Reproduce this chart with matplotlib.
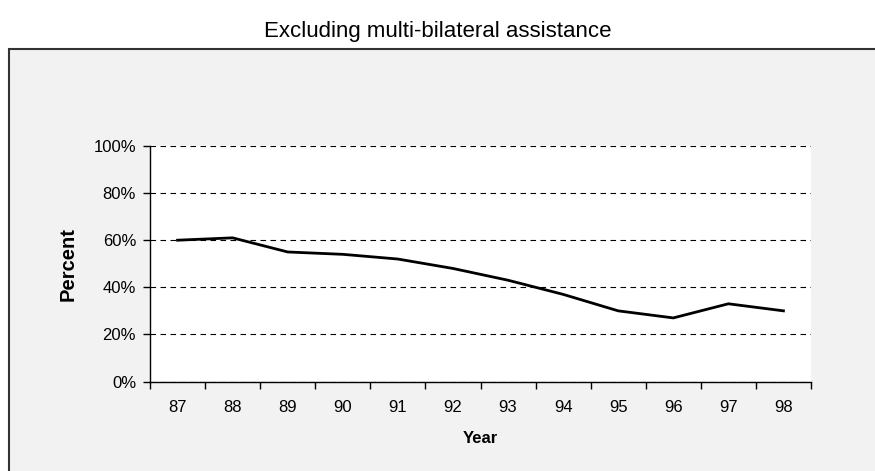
import numpy as np
import matplotlib.pyplot as plt
from matplotlib.patches import Rectangle
from matplotlib.ticker import FixedLocator, PercentFormatter

plt.rcParams['font.family'] = ['Liberation Sans', 'DejaVu Sans']

# Data
years = ['87', '88', '89', '90', '91', '92', '93', '94', '95', '96', '97', '98']
share = [0.60, 0.61, 0.55, 0.54, 0.52, 0.48, 0.43, 0.37, 0.30, 0.27, 0.33, 0.30]

fig = plt.figure(figsize=(8.75, 4.71), dpi=100)
fig.patch.set_facecolor('white')

# gray chart-area box (runs off the right/bottom edge)
fig.patches.append(Rectangle((9 / 875, -0.05), 1.0, 422 / 471 + 0.05,
                             transform=fig.transFigure, facecolor='#f2f2f2',
                             edgecolor='#333333', linewidth=1.5, zorder=-10))

fig.text(438 / 875, 1 - 32 / 471, 'Excluding multi-bilateral assistance',
         ha='center', va='center', fontsize=16)

ax = fig.add_axes([150 / 875, 1 - 381.5 / 471, 661 / 875, 235.5 / 471])
ax.set_facecolor('white')

x = np.arange(len(years))
ax.plot(x, share, color='black', linewidth=2, solid_joinstyle='miter', zorder=3)

ax.set_xlim(-0.5, len(years) - 0.5)
ax.set_ylim(0, 1)

# category boundaries as ticks, labels centred on categories
ax.xaxis.set_major_locator(FixedLocator(np.arange(-0.5, len(years), 1)))
ax.xaxis.set_minor_locator(FixedLocator(x))
ax.set_xticklabels([])
ax.set_xticklabels(years, minor=True)
ax.tick_params(axis='x', which='major', direction='out', length=5, width=1)
ax.tick_params(axis='x', which='minor', length=0, pad=13, labelsize=12)

ax.set_yticks(np.arange(0, 1.01, 0.2))
ax.yaxis.set_major_formatter(PercentFormatter(1.0, decimals=0))
ax.tick_params(axis='y', direction='out', length=5, width=1, labelsize=12, pad=5)

ax.grid(axis='y', color='black', linestyle=(0, (5, 4)), linewidth=0.8)
ax.set_axisbelow(True)

for s in ['top', 'right']:
    ax.spines[s].set_visible(False)
for s in ['left', 'bottom']:
    ax.spines[s].set_linewidth(1)

ax.set_ylabel('Percent', fontsize=14.5, fontweight='bold', labelpad=11.5)
ax.set_xlabel('Year', fontsize=12, fontweight='bold', labelpad=12)

fig.savefig('out.png', dpi=100)
